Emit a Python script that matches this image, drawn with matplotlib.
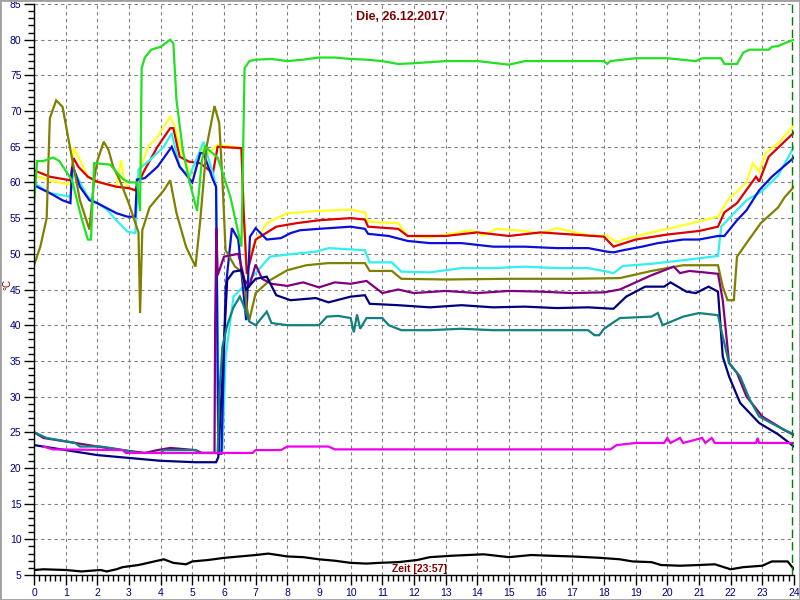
import matplotlib
matplotlib.use("Agg")
import matplotlib.pyplot as plt
from matplotlib.patches import Rectangle
from matplotlib.ticker import MultipleLocator

# (hour, °C) points
green = [(0, 57), (0.1, 63), (0.3, 63), (0.6, 63.5), (0.8, 63), (1.2, 60.3), (1.5, 55),
         (1.7, 52), (1.8, 52), (1.9, 62.7), (2.4, 62.5), (2.6, 61.5), (2.8, 60.5), (3.0, 60),
         (3.25, 60), (3.35, 56), (3.4, 76), (3.5, 77.5), (3.7, 78.6), (4.0, 79), (4.3, 80),
         (4.4, 79.5), (4.5, 71.5), (4.7, 64.5), (4.9, 60.3), (5.15, 56), (5.3, 63), (5.4, 65),
         (5.8, 63.5), (6.2, 58), (6.55, 51), (6.65, 76), (6.8, 77), (7.0, 77.2), (7.5, 77.3),
         (8.0, 77), (8.5, 77.2), (9.0, 77.5), (9.5, 77.5), (10.0, 77.3), (10.5, 77.2),
         (11.0, 77), (11.5, 76.6), (12, 76.7), (13, 77), (14, 77), (15, 76.5), (15.5, 77),
         (16, 77), (17, 77), (18, 77), (18.1, 76.6), (18.2, 77), (19, 77.4), (20, 77.4),
         (20.9, 77), (21.1, 77.4), (21.7, 77.4), (21.8, 76.6), (22.2, 76.6), (22.4, 78.2),
         (22.6, 78.6), (23.2, 78.6), (23.3, 79), (23.5, 79.1), (23.7, 79.5), (24, 80)]

olive = [(0, 48.4), (0.2, 51), (0.4, 55), (0.5, 69), (0.7, 71.5), (0.9, 70.6), (1.05, 67),
         (1.25, 62.2), (1.45, 57.5), (1.75, 53.4), (1.9, 60.4), (2.0, 63), (2.2, 65.7),
         (2.35, 64.6), (2.5, 62.2), (2.7, 60.4), (3.0, 57), (3.3, 53), (3.35, 41.7),
         (3.42, 53.3), (3.65, 56.5), (4.1, 58.9), (4.3, 60.3), (4.5, 55.7), (4.8, 51),
         (5.1, 48.2), (5.25, 54.7), (5.45, 65), (5.7, 70.7), (5.85, 68.3), (5.95, 60.4),
         (6.05, 50.5), (6.35, 48.2), (6.55, 47.5), (6.65, 45.4), (6.72, 42.5), (6.8, 40.7),
         (7.0, 44.5), (7.45, 46.3), (8.0, 47.7), (8.6, 48.4), (9.3, 48.7), (10.45, 48.7),
         (10.6, 47.6), (11.3, 47.6), (11.6, 46.5), (13, 46.4), (15, 46.5), (17, 46.5),
         (18.5, 46.6), (19.5, 47.6), (20.5, 48.4), (21.6, 48.4), (21.75, 45.4), (21.9, 43.5),
         (22.1, 43.5), (22.2, 49.6), (22.5, 51.5), (22.95, 54.3), (23.5, 56.5), (23.7, 57.9),
         (24, 59.4)]

yellow = [(0, 61), (0.5, 60.3), (1.1, 59.7), (1.2, 62), (1.25, 64.9), (1.4, 63.6), (1.7, 60.8),
          (2.0, 60.1), (2.6, 59.4), (2.75, 63.1), (2.85, 60.3), (3.0, 59.2), (3.25, 58.7),
          (3.35, 61.8), (3.6, 65), (3.9, 66.4), (4.3, 69.2), (4.45, 67.8), (4.7, 63.6),
          (5.0, 60.8), (5.2, 63), (5.35, 65.3), (5.5, 64), (5.8, 65.3), (6.55, 64.8),
          (6.62, 56), (6.72, 46.8), (6.9, 51), (7.35, 54.3), (8.0, 55.7), (9.0, 56),
          (10.0, 56.2), (10.45, 55.8), (10.55, 54.5), (11.5, 54.3), (11.8, 52.5), (12.5, 52.3),
          (13.8, 53.3), (14.2, 52.6), (14.6, 53.5), (15.5, 53.2), (16.0, 52.8), (16.5, 53.6),
          (17.5, 52.6), (18.1, 52.5), (18.4, 51.6), (18.6, 52), (19.5, 53), (20.5, 54),
          (21.6, 55.2), (21.9, 57.5), (22.5, 60), (22.7, 62.7), (22.9, 61.5), (23.1, 64.1),
          (23.5, 65.5), (24, 68)]

red = [(0, 61.7), (0.5, 60.8), (1.15, 60.3), (1.25, 63.4), (1.4, 62.2), (1.7, 60.8),
       (2.0, 60.1), (2.6, 59.4), (3.0, 59.2), (3.2, 58.9), (3.3, 60), (3.5, 61.8), (3.9, 65),
       (4.3, 67.6), (4.4, 67.6), (4.6, 63.6), (4.9, 62.9), (5.25, 62.7), (5.65, 61.3),
       (5.8, 65), (6.55, 64.8), (6.62, 56), (6.72, 47.2), (7.0, 52), (7.65, 53.8), (8.3, 54.3),
       (9.0, 54.7), (10.0, 55), (10.45, 54.8), (10.55, 53.8), (11.5, 53.5), (11.8, 52.5),
       (13, 52.5), (14, 53), (15, 52.5), (16, 53), (17, 52.7), (18.0, 52.4), (18.3, 51),
       (19, 52), (20, 52.7), (21, 53.2), (21.6, 53.8), (21.8, 55.8), (22.2, 57.1),
       (22.8, 60.8), (22.9, 60.1), (23.2, 63.6), (24, 67)]

cyan = [(0, 59.9), (0.5, 58.5), (1.15, 58), (1.25, 61.8), (1.45, 60), (1.7, 58), (2.0, 57.1),
        (2.3, 56.2), (2.6, 54.7), (2.95, 53.1), (3.2, 52.9), (3.3, 61.8), (3.65, 63.1),
        (4.1, 65), (4.35, 66.9), (4.6, 62.2), (4.9, 60.8), (5.2, 64), (5.35, 65.7),
        (5.65, 61.3), (5.75, 59.4), (5.85, 22.5), (5.95, 22.5), (6.05, 35.5), (6.3, 44),
        (6.6, 45.4), (7.0, 47.3), (7.45, 49.6), (8.0, 49.9), (8.9, 50.3), (9.3, 50.8),
        (10.45, 50.5), (10.6, 48.8), (11.3, 48.8), (11.6, 47.5), (12.5, 47.4), (13.5, 48),
        (14.5, 48), (15.5, 48.2), (16.5, 48), (17.5, 48), (18.1, 47.5), (18.3, 47.3),
        (18.6, 48.3), (19.5, 48.6), (20.5, 49.1), (21.6, 49.7), (21.7, 53.8), (22.0, 55.2),
        (22.5, 57.5), (23.0, 58.8), (23.5, 61), (24, 65)]

blue = [(0, 59.6), (0.5, 58.5), (0.9, 57.5), (1.15, 57.1), (1.2, 62), (1.25, 62), (1.45, 59.4),
        (1.75, 57.5), (2.0, 57.1), (2.3, 56.4), (2.6, 55.7), (2.95, 55.2), (3.2, 55.2),
        (3.25, 60.4), (3.5, 60.6), (3.9, 62.2), (4.35, 65), (4.6, 62.2), (5.0, 60),
        (5.25, 64.1), (5.35, 64.1), (5.65, 60.4), (5.75, 59.4), (5.82, 22), (5.92, 22),
        (6.05, 45), (6.25, 53.6), (6.45, 52), (6.7, 40.7), (6.82, 52.4), (7.0, 53.6),
        (7.35, 52), (7.8, 52.2), (8.1, 52.9), (8.4, 53.3), (9.0, 53.5), (10.0, 53.8),
        (10.45, 53.5), (10.55, 52.8), (11.2, 52.5), (11.8, 51.8), (12.5, 51.5), (13.5, 51.5),
        (14.5, 51), (15.5, 51), (16.5, 50.8), (17.5, 50.8), (18.1, 50.3), (18.3, 50.2),
        (18.6, 50.5), (19.2, 51), (19.7, 51.5), (20.5, 52), (21.0, 52), (21.6, 52.5),
        (21.8, 52.5), (22.2, 54.7), (22.5, 56.1), (22.9, 58.9), (23.3, 60.8), (23.9, 63.1),
        (24, 63.5)]

purple = [(0, 25), (0.3, 24.2), (1.3, 23.5), (2.0, 23), (2.8, 22.5), (3.5, 22.1), (3.9, 22.5),
          (4.3, 22.8), (5.1, 22.5), (5.3, 22.1), (5.7, 22.1), (5.72, 40), (5.76, 53.6),
          (5.8, 47), (6.0, 49.6), (6.45, 50), (6.55, 48.2), (6.65, 46.3), (6.8, 45.5),
          (7.0, 48.5), (7.2, 46.5), (7.5, 45.8), (8, 45.5), (8.5, 46), (9, 45.3), (9.5, 46),
          (10, 45.8), (10.5, 46.2), (11, 44.5), (11.5, 45), (12, 44.5), (13, 44.8), (14, 44.5),
          (15, 44.8), (16, 44.7), (17, 44.5), (18, 44.6), (18.5, 45), (19, 46), (19.5, 47),
          (20.2, 48.2), (20.4, 47.3), (20.7, 47.6), (21.6, 47.2), (21.75, 43.5), (21.95, 34.7),
          (22.2, 33.3), (22.5, 30), (23, 27.2), (23.7, 25.3), (24, 24.6)]

navy = [(0, 23.2), (1, 22.5), (2, 21.8), (3, 21.4), (4, 21), (5.1, 20.8), (5.75, 20.8),
        (5.82, 21.5), (6.1, 46.3), (6.3, 47.5), (6.55, 47.7), (6.7, 45), (7.0, 46.5),
        (7.35, 46.8), (7.65, 44.2), (8.1, 43.5), (8.9, 43.8), (9.3, 43.2), (10, 44),
        (10.45, 44.2), (10.6, 43), (11.5, 42.8), (12.5, 42.5), (13.5, 42.8), (14.5, 42.5),
        (15.5, 42.6), (16.5, 42.4), (17.5, 42.5), (18.3, 42.3), (18.7, 44), (19.3, 45.4),
        (19.9, 45.4), (20.1, 46), (20.6, 44.7), (20.9, 44.5), (21.3, 45.4), (21.6, 44.7),
        (21.75, 35.6), (21.95, 32.8), (22.3, 29.1), (22.9, 26.3), (23.5, 24.7), (24, 23)]

teal = [(0, 25), (0.4, 24.2), (1.3, 23.5), (1.45, 23), (2.1, 23), (2.7, 22.6), (3.3, 22.1),
        (4.0, 22.1), (4.1, 22.5), (5.1, 22.5), (5.2, 22.1), (5.8, 22.1), (5.85, 30),
        (5.95, 37), (6.1, 40), (6.3, 42.5), (6.5, 44), (6.6, 43), (6.8, 40.5), (7.0, 40),
        (7.35, 41.9), (7.5, 40.3), (8, 40), (9.0, 40), (9.25, 41.2), (9.6, 41.3), (10, 41),
        (10.1, 39), (10.2, 41.5), (10.3, 39.5), (10.5, 41), (11, 41), (11.2, 40), (11.6, 39.3),
        (12.5, 39.3), (13.5, 39.5), (14.5, 39.3), (15.5, 39.3), (16.5, 39.3), (17.5, 39.3),
        (17.7, 38.6), (17.85, 38.6), (18, 39.5), (18.5, 41), (19.5, 41.2), (19.7, 41.7),
        (19.85, 40), (20.5, 41.2), (21.0, 41.7), (21.6, 41.4), (21.75, 38.4), (21.95, 34.7),
        (22.3, 32.8), (22.6, 29.6), (22.9, 27.2), (23.7, 25.3), (24, 24.7)]

magenta = [(0.3, 23), (0.6, 22.6), (2.8, 22.5), (2.9, 22.1), (6.9, 22.1), (7.0, 22.5),
           (7.8, 22.5), (8.0, 23), (9.3, 23), (9.5, 22.6), (18.2, 22.6), (18.4, 23.2),
           (19.0, 23.5), (19.9, 23.5), (20.0, 24.2), (20.1, 23.5), (20.4, 24.2), (20.5, 23.5),
           (21.1, 24.2), (21.2, 23.5), (21.4, 24.2), (21.5, 23.5), (22.8, 23.5), (22.85, 24.2),
           (22.9, 23.5), (24, 23.5)]

black = [(0, 5.7), (0.3, 5.8), (1.0, 5.7), (1.5, 5.5), (2.1, 5.7), (2.3, 5.5), (2.6, 5.8),
         (2.8, 6.1), (3.3, 6.4), (3.6, 6.7), (4.1, 7.2), (4.4, 6.7), (4.8, 6.5), (5.0, 6.9),
         (5.5, 7.1), (6.0, 7.4), (6.5, 7.6), (7.0, 7.8), (7.4, 8.0), (8, 7.6), (8.5, 7.5),
         (9, 7.2), (9.5, 7.0), (10, 6.7), (10.5, 6.6), (10.9, 6.7), (11.5, 6.8), (12.1, 7.1),
         (12.5, 7.5), (13.2, 7.7), (14.2, 7.9), (15.0, 7.5), (15.7, 7.8), (16.3, 7.7),
         (17.0, 7.6), (17.9, 7.4), (18.5, 7.2), (18.9, 6.9), (19.5, 6.8), (19.8, 6.4),
         (20.4, 6.3), (21.0, 6.4), (21.5, 6.5), (22.0, 5.8), (22.4, 6.1), (23.0, 6.3),
         (23.3, 6.9), (23.8, 6.9), (24, 5.8)]

# drawing order and colours
series = [
    (yellow, "#ffff20"),
    (red, "#dd0000"),
    (cyan, "#30f0f0"),
    (blue, "#0a10d8"),
    (olive, "#808000"),
    (green, "#22e022"),
    (purple, "#800080"),
    (navy, "#000080"),
    (teal, "#108080"),
    (magenta, "#ee00ee"),
    (black, "#000000"),
]

title = "Die, 26.12.2017"
time_label = "Zeit [23:57]"
now_hour = 23.95

plt.rcParams["font.family"] = ["Liberation Sans", "DejaVu Sans"]

fig = plt.figure(figsize=(8, 6), dpi=100)
ax = fig.add_axes([34 / 800, 25 / 600, 760 / 800, 571 / 600])

for pts, col in series:
    hours, temps = zip(*pts)
    ax.plot(hours, temps, color=col, linewidth=1.6, solid_joinstyle="miter")

# current time marker
ax.axvline(now_hour, color="#008000", linewidth=1.0, linestyle=(0, (6, 3)))

ax.set_xlim(0, 24)
ax.set_ylim(5, 85)

ax.xaxis.set_major_locator(MultipleLocator(1))
ax.xaxis.set_minor_locator(MultipleLocator(1 / 6))
ax.yaxis.set_major_locator(MultipleLocator(5))
ax.yaxis.set_minor_locator(MultipleLocator(1))

ax.grid(True, which="major", color="#808080", linestyle=(0, (3, 3)), linewidth=0.8)

for side in ["top", "right"]:
    ax.spines[side].set_visible(False)
ax.spines["left"].set_linewidth(1.0)
ax.spines["bottom"].set_linewidth(1.0)

ax.tick_params(axis="both", which="major", direction="out", length=7, width=1,
               labelsize=7.5, labelcolor="#000080", pad=2)
ax.tick_params(axis="both", which="minor", direction="out", length=4, width=1)

fig.text(400 / 800, 1 - 17 / 600, title, ha="center", va="center",
         fontsize=9, fontweight="bold", color="#800000")
fig.text(419 / 800, 1 - 569 / 600, time_label, ha="center", va="center",
         fontsize=7.5, fontweight="bold", color="#800000")
fig.text(7 / 800, 1 - 284 / 600, "°C", ha="center", va="center", rotation=90,
         fontsize=7, color="#800000")

fig.patches.append(Rectangle((0, 0), 1, 1, transform=fig.transFigure, fill=False,
                             edgecolor="#a0a0a0", linewidth=2))

fig.savefig("out.png", dpi=100)
